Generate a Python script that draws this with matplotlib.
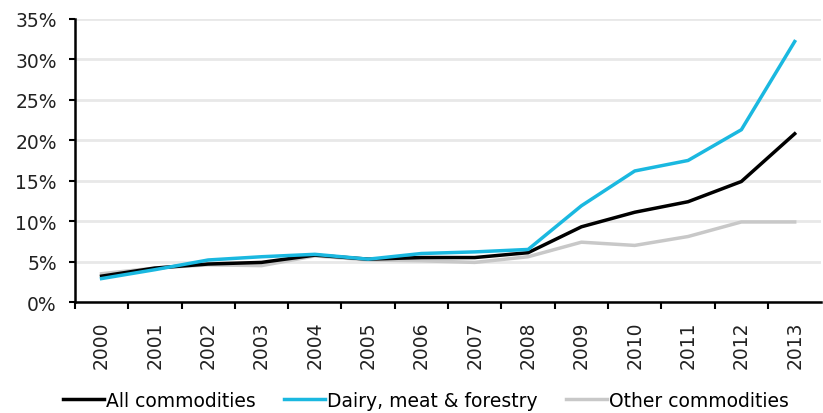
import matplotlib.pyplot as plt
import numpy as np

years = ['2000', '2001', '2002', '2003', '2004', '2005', '2006',
         '2007', '2008', '2009', '2010', '2011', '2012', '2013']
all_commodities = [3.2, 4.2, 4.7, 4.9, 5.8, 5.3, 5.5, 5.5, 6.1, 9.3, 11.1, 12.4, 14.9, 20.8]
dairy_meat_forestry = [2.9, 4.0, 5.2, 5.6, 5.9, 5.3, 6.0, 6.2, 6.5, 11.9, 16.2, 17.5, 21.3, 32.2]
other_commodities = [3.5, 4.2, 4.6, 4.5, 5.7, 5.2, 5.1, 4.9, 5.6, 7.4, 7.0, 8.1, 9.9, 9.9]
yticks = [0, 5, 10, 15, 20, 25, 30, 35]

plt.rcParams['font.family'] = ['DejaVu Sans']
fig, ax = plt.subplots(figsize=(8.23, 4.14), dpi=100)
fig.subplots_adjust(left=0.091, right=0.998, top=0.952, bottom=0.268)

x = np.arange(len(years))
ax.plot(x, other_commodities, color='#c8c8c8', lw=2.5, label='Other commodities', zorder=3)
ax.plot(x, all_commodities, color='#000000', lw=2.5, label='All commodities', zorder=4)
ax.plot(x, dairy_meat_forestry, color='#1ab8e0', lw=2.5, label='Dairy, meat & forestry', zorder=5)

ax.set_xlim(-0.5, len(years) - 0.5)
ax.set_ylim(0, 35)
ax.set_yticks(yticks)
ax.set_yticklabels([f'{v}%' for v in yticks], fontsize=13.5, color='#222222')
ax.yaxis.grid(True, color='#e8e8e8', lw=2)
ax.set_axisbelow(True)

# year labels at category centres, tick marks on the boundaries
ax.set_xticks(x)
ax.set_xticklabels(years, rotation=90, fontsize=13.5, color='#222222')
ax.tick_params(axis='x', which='major', length=0, pad=13)
ax.set_xticks(np.arange(-0.5, len(years) - 1), minor=True)
ax.tick_params(axis='x', which='minor', length=5, width=1.5, direction='out')
ax.tick_params(axis='y', length=4, width=1.5, direction='out', pad=9)

for side in ['top', 'right']:
    ax.spines[side].set_visible(False)
for side in ['left', 'bottom']:
    ax.spines[side].set_linewidth(1.8)

h, l = ax.get_legend_handles_labels()
order = [1, 2, 0]
ax.legend([h[i] for i in order], [l[i] for i in order], loc='lower center',
          bbox_to_anchor=(0.47, -0.44), ncol=3, frameon=False, fontsize=13.5,
          handlelength=2.2, handletextpad=0.1, columnspacing=1.5)

plt.savefig('out.png', dpi=100)
